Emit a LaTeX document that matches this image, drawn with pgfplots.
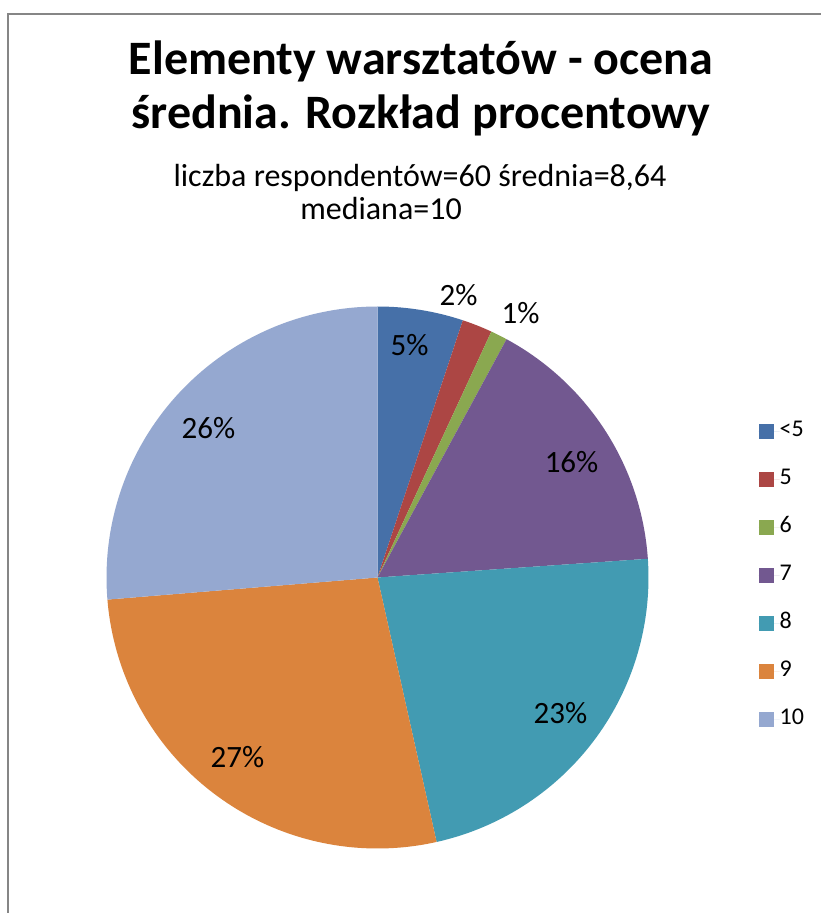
\documentclass[border=0pt]{standalone}
\usepackage{fontspec}
\setmainfont{Carlito}
\usepackage{pgfplots}
\pgfplotsset{compat=1.18}
\definecolor{c1}{RGB}{70,112,168}
\definecolor{c2}{RGB}{172,70,68}
\definecolor{c3}{RGB}{138,168,80}
\definecolor{c4}{RGB}{114,88,144}
\definecolor{c5}{RGB}{66,155,178}
\definecolor{c6}{RGB}{219,132,61}
\definecolor{c7}{RGB}{149,168,208}
\definecolor{frame}{RGB}{134,134,134}
\gdef\cum{90}
\newcommand{\slice}[3]{% value (percent), colour, legend
  \pgfmathsetmacro{\sa}{\cum}%
  \pgfmathsetmacro{\sb}{\cum-3.6*#1}%
  \edef\doit{\noexpand\addplot[fill=#2, draw=none, domain=\sb:\sa, samples=90]
    ({cos(x)},{sin(x)}) -- (axis cs:0,0) -- cycle;
    \noexpand\addlegendentry{#3}}%
  \doit
  \xdef\cum{\sb}%
}
\begin{document}
\begin{tikzpicture}
\useasboundingbox (0,0) rectangle (821bp,913bp);
\fill[white] (0,0) rectangle (821bp,913bp);
\draw[frame, line width=1.8bp] (8bp,0) -- (8bp,899bp) -- (822bp,899bp);
\node[anchor=base, inner sep=0pt, font=\fontsize{48bp}{54bp}\selectfont\bfseries] at (421bp,838bp) {Elementy warsztatów - ocena};
\node[anchor=base, inner sep=0pt, font=\fontsize{48bp}{54bp}\selectfont\bfseries] at (421bp,784bp) {średnia. Rozkład procentowy};
\node[anchor=base, inner sep=0pt, font=\fontsize{32bp}{36bp}\selectfont] at (420bp,726bp) {liczba respondentów=60 średnia=8,64};
\node[anchor=base, inner sep=0pt, font=\fontsize{32bp}{36bp}\selectfont] at (381bp,693bp) {mediana=10};
\begin{axis}[
  at={(377.5bp,335.5bp)}, anchor=center,
  width=542bp, height=542bp, scale only axis,
  xmin=-1, xmax=1, ymin=-1, ymax=1,
  hide axis, clip=false,
  legend image code/.code={\fill[#1] (0bp,-7.5bp) rectangle (15bp,7.5bp); \path (0bp,0bp) -- (21bp,0bp);},
  legend cell align=left,
  legend style={draw=none, fill=none, at={(axis cs:1.4059,0.575)}, anchor=north west,
    row sep=29bp, inner sep=0pt, column sep=0pt, font=\fontsize{24bp}{28bp}\selectfont,
    nodes={inner sep=0pt, font=\fontsize{24bp}{28bp}\selectfont, text height=15bp, text depth=4bp}},
]
\slice{5.1}{c1}{<5}
\slice{1.8}{c2}{5}
\slice{1.0}{c3}{6}
\slice{16.0}{c4}{7}
\slice{22.6}{c5}{8}
\slice{27.2}{c6}{9}
\slice{26.3}{c7}{10}
\begin{scope}[every node/.style={font=\fontsize{31bp}{36bp}\selectfont}]
\node at (axis cs:0.118,0.856) {5\%};
\node at (axis cs:0.299,1.041) {2\%};
\node at (axis cs:0.528,0.974) {1\%};
\node at (axis cs:0.716,0.426) {16\%};
\node at (axis cs:0.675,-0.502) {23\%};
\node at (axis cs:-0.517,-0.664) {27\%};
\node at (axis cs:-0.624,0.550) {26\%};
\end{scope}
\end{axis}
\end{tikzpicture}
\end{document}
